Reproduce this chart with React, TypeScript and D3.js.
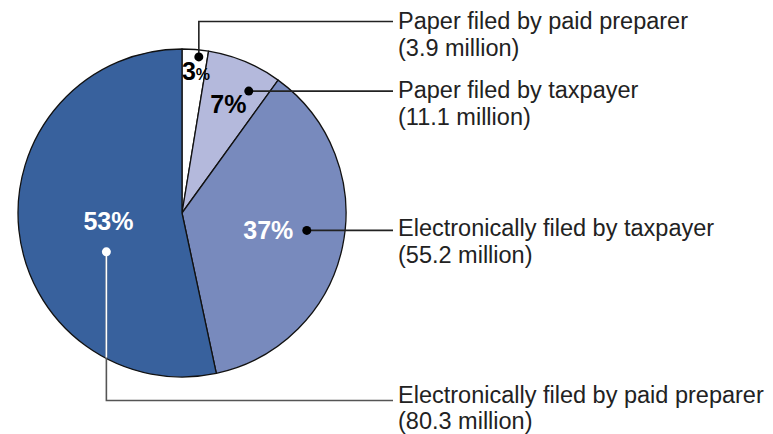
import React, { useEffect } from 'react';
import * as d3 from 'd3';

// filing method, millions of returns
const categories = [
  'Paper filed by paid preparer',
  'Paper filed by taxpayer',
  'Electronically filed by taxpayer',
  'Electronically filed by paid preparer',
];
const values = [3.9, 11.1, 55.2, 80.3];
const pctLabels = ['3', '7', '37', '53'];
const subLabels = ['(3.9 million)', '(11.1 million)', '(55.2 million)', '(80.3 million)'];

const colors = ['#ffffff', '#b4b9dc', '#788abd', '#38619d'];
const pctColors = ['#000', '#000', '#fff', '#fff'];

const W = 773;
const H = 434;
const cx = 182;
const cy = 213;
const R = 164;

// placement of the percent text and leader dot, as [fraction of slice angle, radius]
const pctPlace: [number, number][] = [[0.6, 143], [0.52, 118], [0.495, 88], [0.5, 74]];
const dotPlace: [number, number][] = [[0.66, 157], [0.73, 139], [0.47, 126], [0.39, 85]];
// y of the label's leader line, first text baseline and gap to the second line
const labelY = [21.5, 91, 230, 400.5];
const baseY = [28.5, 98, 235.5, 403];
const lineGap = [27, 27, 27, 25.5];
const labelX = 398;
const lineEnd = 393;

const polar = (a: number, r: number): [number, number] => [cx + r * Math.sin(a), cy - r * Math.cos(a)];

export default function App() {
  useEffect(() => {
    document.body.style.margin = '0';
  }, []);

  const pie = d3.pie<number>().sort(null).value((d) => d);
  const arcs = pie(values);
  const arc = d3.arc<d3.PieArcDatum<number>>().innerRadius(0).outerRadius(R);

  const at = (i: number, p: [number, number]) => {
    const a = arcs[i];
    return polar(a.startAngle + (a.endAngle - a.startAngle) * p[0], p[1]);
  };

  const dots = arcs.map((_, i) => at(i, dotPlace[i]));
  const leaders = dots.map(([x, y], i) => {
    const ly = labelY[i];
    if (i === 0 || i === 3) return `M${x},${y}V${ly}H${lineEnd}`;
    return `M${x},${y}H${lineEnd}`;
  });

  // inner part of the 53% leader is drawn white over the slice
  const [d4x, d4y] = dots[3];
  const edgeY = cy + Math.sqrt(R * R - (d4x - cx) * (d4x - cx));

  return (
    <svg width={W} height={H} style={{ display: 'block', fontFamily: 'Liberation Sans, Arial, sans-serif' }}>
      <g transform={`translate(${cx},${cy})`}>
        {arcs.map((a, i) => (
          <path key={'s' + i} d={arc(a) || ''} fill={colors[i]} stroke="#111" strokeWidth={1.3} strokeLinejoin="round" />
        ))}
      </g>
      {leaders.map((d, i) => (
        <path key={'l' + i} d={d} fill="none" stroke={i === 3 ? '#555' : '#222'} strokeWidth={1.6} />
      ))}
      <line x1={d4x} y1={d4y} x2={d4x} y2={edgeY - 1} stroke="#fff" strokeWidth={1.6} />
      {dots.map(([x, y], i) => (
        <circle key={'d' + i} cx={x} cy={y} r={4.5} fill={i === 3 ? '#fff' : '#000'} />
      ))}
      {arcs.map((_, i) => {
        const [x, y] = at(i, pctPlace[i]);
        return (
          <text key={'p' + i} x={x} y={y + 9} textAnchor="middle" fontWeight="bold" fontSize={25} fill={pctColors[i]}>
            {pctLabels[i]}
            <tspan fontSize={i === 0 ? 16 : 25}>%</tspan>
          </text>
        );
      })}
      {categories.map((c, i) => (
        <text key={'t' + i} x={labelX} fill="#222" fontSize={23.5}>
          <tspan x={labelX} y={baseY[i]}>{c}</tspan>
          <tspan x={labelX} y={baseY[i] + lineGap[i]}>{subLabels[i]}</tspan>
        </text>
      ))}
    </svg>
  );
}
